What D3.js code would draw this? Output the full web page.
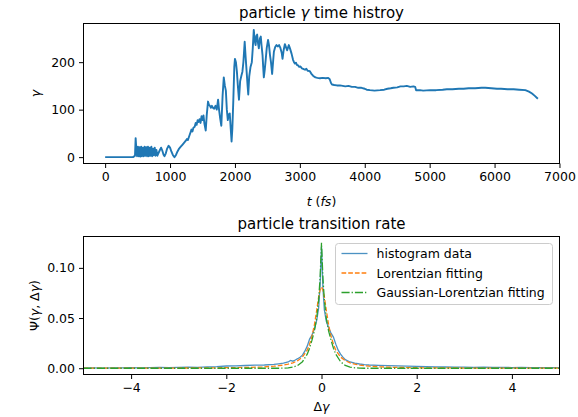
<!DOCTYPE html>
<html>
<head>
<meta charset="utf-8">
<script src="https://cdn.jsdelivr.net/npm/d3@7/dist/d3.min.js"></script>
<style>
  body { margin: 0; background: #fff; }
  text { font-family: "DejaVu Sans", sans-serif; }
</style>
</head>
<body>
<div class="chart"></div>
<script>
// ---- top panel: gamma vs time (fs)
const timeFs = [0,100,200,300,430,460,470,480,492,505,518,530,543,556,569,582,595,608,621,634,647,660,673,686,699,712,725,738,751,764,777,790,805,820,840,862,880,900,915,935,955,978,1000,1020,1045,1068,1090,1115,1140,1165,1190,1215,1240,1260,1275,1295,1315,1330,1345,1360,1380,1395,1410,1425,1440,1455,1470,1485,1500,1515,1530,1550,1565,1585,1600,1615,1630,1645,1660,1680,1700,1720,1740,1755,1770,1790,1810,1828,1845,1860,1875,1890,1905,1920,1935,1948,1960,1975,1990,2000,2015,2030,2045,2062,2080,2100,2115,2130,2150,2165,2180,2195,2205,2220,2240,2260,2275,2290,2305,2318,2330,2342,2355,2368,2385,2398,2410,2425,2435,2445,2460,2475,2490,2510,2525,2540,2555,2573,2590,2600,2620,2640,2660,2680,2700,2720,2733,2750,2769,2790,2805,2820,2830,2850,2872,2895,2910,2923,2940,2955,2974,2990,3010,3030,3051,3080,3100,3120,3154,3175,3206,3240,3270,3309,3350,3400,3437,3460,3480,3495,3530,3570,3618,3660,3700,3750,3800,3850,3900,3950,4000,4030,4081,4150,4236,4300,4350,4400,4442,4500,4550,4600,4648,4700,4750,4776,4791,4850,4900,5007,5100,5200,5265,5350,5450,5522,5600,5700,5800,5857,5950,6037,6100,6200,6294,6380,6474,6530,6577,6620,6667]
const gammaVals = [0,0,0,0,0,3,40,18,2,22,2,21,1,22,2,20,2,22,3,21,2,22,2,20,3,22,2,18,4,20,3,15,3,8,14,20,14,5,2,8,18,24,20,12,4,0,4,12,18,22,26,30,34,38,36,44,52,58,54,62,64,72,68,78,74,80,72,86,78,88,70,56,88,117,110,108,104,108,104,102,108,100,121,100,84,66,130,168,150,140,100,78,90,92,60,33,60,120,190,207,200,180,150,121,160,172,180,200,243,210,180,150,132,170,190,200,230,268,245,236,255,258,240,229,250,254,235,215,190,168,185,207,230,247,235,215,200,175,205,222,232,236,233,236,230,220,207,225,238,230,225,232,236,228,218,205,200,197,199,194,193,190,191,187,186,184,186,182,181,176,171,168,167,166,167,166,167,164,156,153,152,151,151,150,149,150,148,148,146,146,144,142,141,140,141,142,144,145,146,147,149,149,150,148,149,148,141,141,140,141,141,142,143,143,144,144,145,145,146,146,145,144,144,143,143,142,141,138,134,129,123]
const timeTicks = [0,1000,2000,3000,4000,5000,6000,7000]
const gammaTicks = [0,100,200]

// ---- bottom panel: histogram of delta gamma + two fits
const histX = [-5,-4.8,-4.6,-4.4,-4.2,-4,-3.8,-3.6,-3.4,-3.2,-3,-2.8,-2.6,-2.4,-2.2,-2,-1.8,-1.6,-1.4,-1.2,-1,-0.9,-0.8,-0.7,-0.65,-0.6,-0.55,-0.5,-0.45,-0.4,-0.35,-0.3,-0.25,-0.2,-0.15,-0.1,-0.06,-0.03,0,0.03,0.06,0.1,0.15,0.2,0.25,0.3,0.35,0.4,0.45,0.5,0.6,0.7,0.8,0.9,1,1.2,1.4,1.6,1.8,2,2.2,2.4,2.6,2.8,3,3.2,3.4,3.6,3.8,4,4.2,4.4,4.6,4.8,5]
const histVals = [0.0002,0.0003,0.0002,0.0004,0.0003,0.0006,0.0004,0.0005,0.0007,0.0006,0.0008,0.0011,0.0009,0.0013,0.0016,0.0022,0.0024,0.0027,0.003,0.0032,0.0038,0.0044,0.005,0.0062,0.0077,0.007,0.0082,0.0095,0.011,0.013,0.017,0.022,0.029,0.033,0.039,0.048,0.06,0.082,0.121,0.08,0.058,0.047,0.04,0.035,0.031,0.024,0.018,0.014,0.011,0.0085,0.0062,0.005,0.0042,0.0036,0.0032,0.0029,0.0026,0.0023,0.002,0.0018,0.0016,0.0014,0.0012,0.0011,0.001,0.0009,0.001,0.0008,0.0009,0.0007,0.0008,0.0006,0.0007,0.0006,0.0005]

const fitX = [-5,-4.5,-4,-3.5,-3,-2.5,-2,-1.75,-1.5,-1.25,-1,-0.9,-0.8,-0.7,-0.6,-0.5,-0.4,-0.3,-0.25,-0.2,-0.15,-0.1,-0.06,-0.03,0,0.03,0.06,0.1,0.15,0.2,0.25,0.3,0.4,0.5,0.6,0.7,0.8,0.9,1,1.25,1.5,1.75,2,2.5,3,3.5,4,4.5,5]
const lorentzVals = [0.0001,0.0001,0.0001,0.0002,0.0002,0.0003,0.0005,0.0007,0.0009,0.0013,0.002,0.0025,0.0031,0.004,0.0054,0.0075,0.0112,0.018,0.024,0.032,0.043,0.058,0.071,0.078,0.081,0.078,0.071,0.058,0.043,0.032,0.024,0.018,0.0112,0.0075,0.0054,0.004,0.0031,0.0025,0.002,0.0013,0.0009,0.0007,0.0005,0.0003,0.0002,0.0002,0.0001,0.0001,0.0001]
const gaussLorVals = [0,0,0,0,0,0,0,0,0,0,0,0,0.0001,0.0004,0.0011,0.0028,0.0065,0.014,0.02,0.028,0.037,0.05,0.068,0.09,0.125,0.09,0.068,0.05,0.037,0.028,0.02,0.014,0.0065,0.0028,0.0011,0.0004,0.0001,0,0,0,0,0,0,0,0,0,0,0,0]
const dgTicks = [-4,-2,0,2,4]
const psiTicks = [0,0.05,0.1]

const width = 578
const height = 417
const topBox = {left: 83.5, right: 559.5, top: 23.5, bottom: 163.5}
const botBox = {left: 83.5, right: 559.5, top: 236.5, bottom: 374.5}
const fontSize = 12.5
const blue = '#1f77b4', orange = '#ff7f0e', green = '#2ca02c'

// matplotlib style 5% margins
function padded(ext) {
  const m = (ext[1] - ext[0]) * 0.05
  return [ext[0] - m, ext[1] + m]
}

const svg = d3.select('.chart')
  .append('svg')
  .attr('width', width)
  .attr('height', height)
  .style('background', '#fff')

function drawAxes(box, xScale, yScale, xTicks, yTicks, xFmt, yFmt) {
  const xAxis = d3.axisBottom(xScale).tickValues(xTicks).tickFormat(xFmt)
    .tickSizeOuter(0).tickSize(4.5).tickPadding(4)
  const yAxis = d3.axisLeft(yScale).tickValues(yTicks).tickFormat(yFmt)
    .tickSizeOuter(0).tickSize(4.5).tickPadding(4)

  const gx = svg.append('g').attr('transform', `translate(0, ${box.bottom})`).call(xAxis)
  const gy = svg.append('g').attr('transform', `translate(${box.left}, 0)`).call(yAxis)
  for (const g of [gx, gy]) {
    g.select('.domain').remove()
    g.selectAll('line').attr('stroke', '#000').attr('stroke-width', 1)
    g.selectAll('text')
      .attr('fill', '#000')
      .attr('font-family', 'DejaVu Sans')
      .attr('font-size', fontSize)
  }

  svg.append('rect')
    .attr('x', box.left).attr('y', box.top)
    .attr('width', box.right - box.left)
    .attr('height', box.bottom - box.top)
    .attr('fill', 'none')
    .attr('stroke', '#000')
    .attr('stroke-width', 1)
}

function clipFor(id, box) {
  svg.append('clipPath').attr('id', id)
    .append('rect')
    .attr('x', box.left).attr('y', box.top)
    .attr('width', box.right - box.left).attr('height', box.bottom - box.top)
  return `url(#${id})`
}

const minus = d3.format('')
const fmtMinus = d => minus(d).replace('-', '\u2212')

// ---------- top panel
const tScale = d3.scaleLinear()
  .domain(padded(d3.extent(timeFs)))
  .range([topBox.left, topBox.right])
const gScale = d3.scaleLinear()
  .domain(padded(d3.extent(gammaVals)))
  .range([topBox.bottom, topBox.top])

const topLine = d3.line()
  .x((d, i) => tScale(timeFs[i]))
  .y(d => gScale(d))

svg.append('path')
  .datum(gammaVals)
  .attr('d', topLine)
  .attr('fill', 'none')
  .attr('stroke', blue)
  .attr('stroke-width', 1.9)
  .attr('stroke-linejoin', 'round')
  .attr('clip-path', clipFor('clipTop', topBox))

drawAxes(topBox, tScale, gScale, timeTicks, gammaTicks, d3.format('d'), d3.format('d'))

const cxTop = (topBox.left + topBox.right) / 2
const title1 = svg.append('text')
  .attr('x', cxTop).attr('y', 17.5)
  .attr('text-anchor', 'middle')
  .attr('font-size', 15)
title1.append('tspan').text('particle ')
title1.append('tspan').attr('font-style', 'italic').text('γ')
title1.append('tspan').text(' time histroy')

const xl1 = svg.append('text')
  .attr('x', cxTop).attr('y', 206)
  .attr('text-anchor', 'middle')
  .attr('font-size', fontSize)
xl1.append('tspan').attr('font-style', 'italic').text('t')
xl1.append('tspan').text(' (')
xl1.append('tspan').attr('font-style', 'italic').text('fs')
xl1.append('tspan').text(')')

svg.append('text')
  .attr('transform', `translate(40, ${(topBox.top + topBox.bottom) / 2}) rotate(-90)`)
  .attr('text-anchor', 'middle')
  .attr('font-size', fontSize)
  .attr('font-style', 'italic')
  .text('γ')

// ---------- bottom panel
const dgScale = d3.scaleLinear()
  .domain([-5, 5])
  .range([botBox.left, botBox.right])
const psiScale = d3.scaleLinear()
  .domain(padded(d3.extent(histVals.concat(lorentzVals, gaussLorVals))))
  .range([botBox.bottom, botBox.top])

const clipBot = clipFor('clipBot', botBox)
const series = [
  {name: 'histogram data', xs: histX, ys: histVals, color: blue, dash: null, opacity: 0.8},
  {name: 'Lorentzian fitting', xs: fitX, ys: lorentzVals, color: orange, dash: '4.7,2', opacity: 1},
  {name: 'Gaussian-Lorentzian fitting', xs: fitX, ys: gaussLorVals, color: green, dash: '8.1,2,1.3,2', opacity: 1}
]

series.forEach(s => {
  const line = d3.line()
    .x((d, i) => dgScale(s.xs[i]))
    .y(d => psiScale(d))
  svg.append('path')
    .datum(s.ys)
    .attr('d', line)
    .attr('fill', 'none')
    .attr('stroke', s.color)
    .attr('stroke-opacity', s.opacity)
    .attr('stroke-width', 1.3)
    .attr('stroke-dasharray', s.dash)
    .attr('clip-path', clipBot)
})

drawAxes(botBox, dgScale, psiScale, dgTicks, psiTicks, fmtMinus, d3.format('.2f'))

const cxBot = (botBox.left + botBox.right) / 2
svg.append('text')
  .attr('x', cxBot).attr('y', 229)
  .attr('text-anchor', 'middle')
  .attr('font-size', 15)
  .text('particle transition rate')

const xl2 = svg.append('text')
  .attr('x', cxBot).attr('y', 411)
  .attr('text-anchor', 'middle')
  .attr('font-size', fontSize)
xl2.append('tspan').text('Δ')
xl2.append('tspan').attr('font-style', 'italic').text('γ')

const yl2 = svg.append('text')
  .attr('transform', `translate(39, ${(botBox.top + botBox.bottom) / 2}) rotate(-90)`)
  .attr('text-anchor', 'middle')
  .attr('font-size', fontSize)
yl2.append('tspan').text('Ψ(')
yl2.append('tspan').attr('font-style', 'italic').text('γ')
yl2.append('tspan').text(', Δ')
yl2.append('tspan').attr('font-style', 'italic').text('γ')
yl2.append('tspan').text(')')

// legend
const legend = svg.append('g').attr('transform', 'translate(335.5, 243.5)')
legend.append('rect')
  .attr('width', 217).attr('height', 61)
  .attr('rx', 3)
  .attr('fill', '#fff').attr('fill-opacity', 0.8)
  .attr('stroke', '#ccc').attr('stroke-width', 1)

series.forEach((s, i) => {
  const y = 10 + i * 19.5
  legend.append('line')
    .attr('x1', 6).attr('x2', 32)
    .attr('y1', y).attr('y2', y)
    .attr('stroke', s.color)
    .attr('stroke-opacity', s.opacity)
    .attr('stroke-width', 1.3)
    .attr('stroke-dasharray', s.dash)
  legend.append('text')
    .attr('x', 41).attr('y', y + 4.5)
    .attr('font-size', fontSize)
    .text(s.name)
})
</script>
</body>
</html>
